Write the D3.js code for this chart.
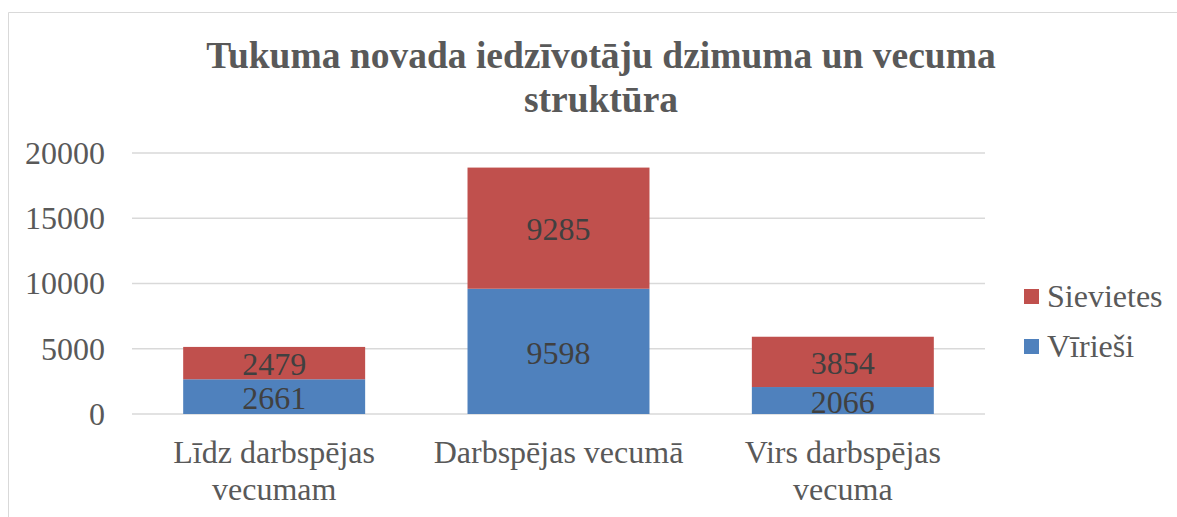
<!DOCTYPE html>
<html>
<head>
<meta charset="utf-8">
<script src="https://cdn.jsdelivr.net/npm/d3@7"></script>
<style>
  body { margin: 0; background: #fff; }
  svg text { font-family: 'Liberation Serif', 'Times New Roman', serif; }
</style>
</head>
<body>
<svg id="chart" width="1177" height="517" style="display:block"></svg>
<script>
// values
var categories = [["Līdz darbspējas", "vecumam"], ["Darbspējas vecumā"], ["Virs darbspējas", "vecuma"]];
var viriesi = [2661, 9598, 2066];
var sievietes = [2479, 9285, 3854];
var yTicks = [0, 5000, 10000, 15000, 20000];
var titleLines = ["Tukuma novada iedzīvotāju dzimuma un vecuma", "struktūra"];
var seriesNames = ["Vīrieši", "Sievietes"];
var colors = ["#4F81BD", "#C0504D"];

var W = 1177, H = 517;
var margin = {top: 153, right: 192, bottom: 103, left: 132};
var width = W - margin.left - margin.right,
    height = H - margin.top - margin.bottom;

var svg = d3.select("#chart");

// chart frame
svg.append("path")
    .attr("d", "M8.5," + H + "V12.5H" + W)
    .attr("fill", "none")
    .attr("stroke", "#D9D9D9")
    .attr("stroke-width", 1);

// title
svg.append("text")
    .attr("text-anchor", "middle")
    .attr("font-weight", "bold")
    .attr("font-size", 37.5)
    .attr("fill", "#595959")
    .selectAll("tspan").data(titleLines).enter().append("tspan")
    .attr("x", 601)
    .attr("y", function(d, i) { return 68 + i * 44; })
    .text(function(d) { return d; });

var plot = svg.append("g")
    .attr("transform", "translate(" + margin.left + "," + margin.top + ")");

var x = d3.scaleBand().domain(d3.range(categories.length)).range([0, width]).paddingInner(0.36).paddingOuter(0.18);
var y = d3.scaleLinear().domain([0, 20000]).range([height, 0]);

// gridlines
plot.append("g")
    .selectAll("line").data(yTicks).enter().append("line")
    .attr("x1", 0).attr("x2", width)
    .attr("y1", function(d) { return y(d); })
    .attr("y2", function(d) { return y(d); })
    .attr("stroke", "#D9D9D9")
    .attr("stroke-width", 1.5);

// y axis labels
var yAxis = plot.append("g")
    .call(d3.axisLeft(y).tickValues(yTicks).tickSize(0).tickPadding(27).tickFormat(d3.format("d")));
yAxis.attr("font-family", null).attr("font-size", null);
yAxis.select(".domain").remove();
yAxis.selectAll("text")
    .attr("font-size", 32)
    .attr("fill", "#595959");

// stacked data
var rows = categories.map(function(c, i) { return {i: i, v: viriesi[i], s: sievietes[i]}; });
var stack = d3.stack().keys(["v", "s"])(rows);

var layers = plot.selectAll(".layer").data(stack).enter().append("g")
    .attr("class", "layer")
    .attr("fill", function(d, k) { return colors[k]; });

layers.selectAll("rect").data(function(d) { return d; }).enter().append("rect")
    .attr("x", function(d) { return x(d.data.i); })
    .attr("width", x.bandwidth())
    .attr("y", function(d) { return y(d[1]); })
    .attr("height", function(d) { return y(d[0]) - y(d[1]); });

layers.selectAll("text").data(function(d) { return d; }).enter().append("text")
    .attr("x", function(d) { return x(d.data.i) + x.bandwidth() / 2; })
    .attr("y", function(d) { return (y(d[0]) + y(d[1])) / 2; })
    .attr("dy", "0.38em")
    .attr("text-anchor", "middle")
    .attr("font-size", 32)
    .attr("fill", "#404040")
    .text(function(d) { return d[1] - d[0]; });

// category labels
var xl = plot.append("g").selectAll("text").data(categories).enter().append("text")
    .attr("text-anchor", "middle")
    .attr("font-size", 32)
    .attr("fill", "#595959");
xl.selectAll("tspan").data(function(d, i) { return d.map(function(t) { return {t: t, i: i}; }); })
    .enter().append("tspan")
    .attr("x", function(d) { return x(d.i) + x.bandwidth() / 2; })
    .attr("y", function(d, j) { return height + 49 + j * 37; })
    .text(function(d) { return d.t; });

// legend
var legend = svg.append("g").attr("transform", "translate(1024,289)");
var legItems = legend.selectAll("g").data([1, 0]).enter().append("g")
    .attr("transform", function(d, j) { return "translate(0," + (j * 50) + ")"; });
legItems.append("rect")
    .attr("width", 15).attr("height", 15)
    .attr("fill", function(d) { return colors[d]; });
legItems.append("text")
    .attr("x", 23).attr("y", 18)
    .attr("font-size", 32)
    .attr("fill", "#595959")
    .text(function(d) { return seriesNames[d]; });
</script>
</body>
</html>
